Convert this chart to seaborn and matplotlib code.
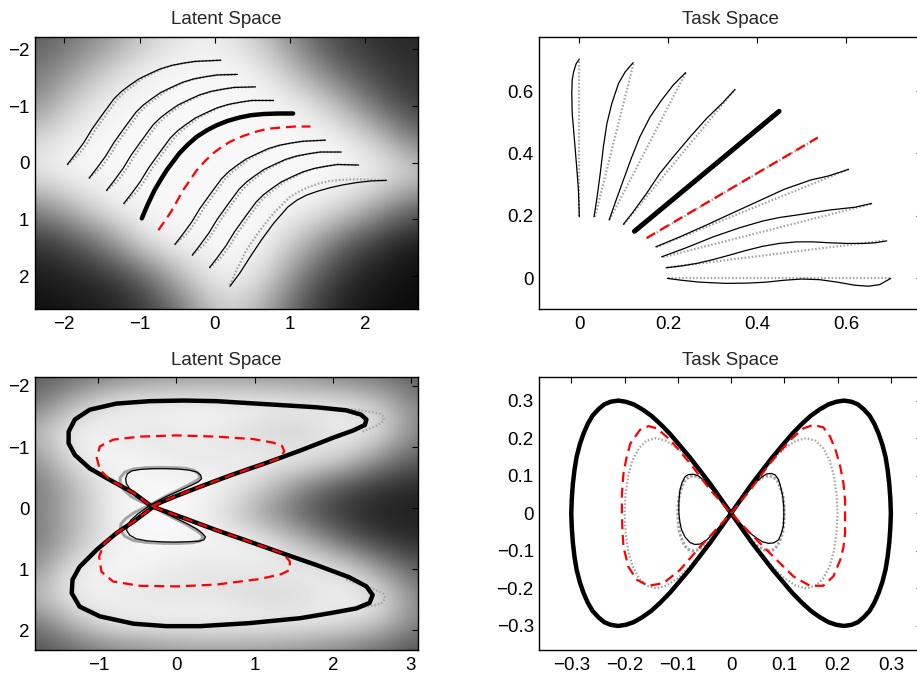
import numpy as np
import matplotlib
matplotlib.use("Agg")
import matplotlib.pyplot as plt
import seaborn as sns

sns.set_theme(style="white")
plt.rcParams['font.family'] = ['Liberation Sans', 'DejaVu Sans']
plt.rcParams['axes.unicode_minus'] = True

# ---------------- Top-left: Latent Space (trajectory family) ----------------
tl_black_x = [
    [-1.96, -1.85, -1.74, -1.63, -1.49, -1.34, -1.24, -1.14, -1.01, -0.87, -0.72, -0.57, -0.41, -0.26, 0.08],
    [-1.67, -1.56, -1.45, -1.34, -1.20, -1.05, -0.95, -0.85, -0.72, -0.58, -0.43, -0.28, -0.12, 0.03, 0.30],
    [-1.44, -1.33, -1.22, -1.11, -0.97, -0.82, -0.72, -0.62, -0.49, -0.35, -0.20, -0.05, 0.11, 0.26, 0.54],
    [-1.21, -1.10, -0.99, -0.88, -0.74, -0.59, -0.49, -0.39, -0.26, -0.12, 0.03, 0.18, 0.34, 0.49, 0.78],
    [-0.53, -0.42, -0.31, -0.20, -0.06, 0.09, 0.19, 0.29, 0.42, 0.56, 0.71, 0.86, 1.02, 1.17, 1.47],
    [-0.30, -0.19, -0.08, 0.03, 0.17, 0.32, 0.42, 0.52, 0.65, 0.79, 0.94, 1.09, 1.25, 1.40, 1.68],
    [-0.07, 0.04, 0.15, 0.26, 0.40, 0.55, 0.65, 0.75, 0.88, 1.02, 1.17, 1.32, 1.48, 1.63, 1.91],
    [0.20, 0.33, 0.47, 0.62, 0.78, 0.97, 1.09, 1.22, 1.37, 1.53, 1.70, 1.88, 2.08, 2.28],
]
tl_black_y = [
    [0.03, -0.16, -0.36, -0.60, -0.86, -1.13, -1.26, -1.36, -1.48, -1.57, -1.66, -1.72, -1.76, -1.79, -1.81],
    [0.27, 0.08, -0.12, -0.36, -0.62, -0.89, -1.02, -1.12, -1.24, -1.33, -1.42, -1.48, -1.52, -1.55, -1.56],
    [0.49, 0.30, 0.10, -0.14, -0.40, -0.67, -0.80, -0.90, -1.02, -1.11, -1.20, -1.26, -1.30, -1.33, -1.34],
    [0.72, 0.53, 0.33, 0.09, -0.17, -0.44, -0.57, -0.67, -0.79, -0.88, -0.97, -1.03, -1.07, -1.10, -1.10],
    [1.44, 1.25, 1.05, 0.81, 0.55, 0.28, 0.15, 0.05, -0.07, -0.16, -0.25, -0.31, -0.35, -0.38, -0.40],
    [1.63, 1.44, 1.24, 1.00, 0.74, 0.47, 0.34, 0.24, 0.12, 0.03, -0.06, -0.12, -0.16, -0.19, -0.19],
    [1.85, 1.66, 1.46, 1.22, 0.96, 0.69, 0.56, 0.46, 0.34, 0.25, 0.16, 0.10, 0.06, 0.03, 0.04],
    [2.18, 1.95, 1.66, 1.36, 1.07, 0.78, 0.66, 0.57, 0.50, 0.44, 0.39, 0.35, 0.32, 0.31],
]
tl_gray_x = [
    [-1.96, -1.80, -1.69, -1.58, -1.44, -1.29, -1.19, -1.09, -0.97, -0.84, -0.70, -0.56, -0.41, -0.26, 0.08],
    [-1.67, -1.51, -1.40, -1.29, -1.15, -1.00, -0.90, -0.80, -0.68, -0.55, -0.41, -0.27, -0.12, 0.03, 0.30],
    [-1.44, -1.28, -1.17, -1.06, -0.92, -0.77, -0.67, -0.57, -0.45, -0.32, -0.18, -0.04, 0.11, 0.26, 0.54],
    [-1.21, -1.05, -0.94, -0.83, -0.69, -0.54, -0.44, -0.34, -0.22, -0.09, 0.05, 0.19, 0.34, 0.49, 0.78],
    [-0.53, -0.37, -0.26, -0.15, -0.01, 0.14, 0.24, 0.34, 0.46, 0.59, 0.73, 0.87, 1.02, 1.17, 1.47],
    [-0.30, -0.14, -0.03, 0.08, 0.22, 0.37, 0.47, 0.57, 0.69, 0.82, 0.96, 1.10, 1.25, 1.40, 1.68],
    [-0.07, 0.09, 0.20, 0.31, 0.45, 0.60, 0.70, 0.80, 0.92, 1.05, 1.19, 1.33, 1.48, 1.63, 1.91],
    [0.20, 0.29, 0.42, 0.60, 0.78, 1.00, 1.13, 1.26, 1.40, 1.53, 1.70, 1.88, 2.08, 2.28],
]
tl_gray_y = [
    [0.03, -0.16, -0.36, -0.60, -0.86, -1.13, -1.26, -1.36, -1.48, -1.57, -1.66, -1.72, -1.76, -1.79, -1.81],
    [0.27, 0.08, -0.12, -0.36, -0.62, -0.89, -1.02, -1.12, -1.24, -1.33, -1.42, -1.48, -1.52, -1.55, -1.56],
    [0.49, 0.30, 0.10, -0.14, -0.40, -0.67, -0.80, -0.90, -1.02, -1.11, -1.20, -1.26, -1.30, -1.33, -1.34],
    [0.72, 0.53, 0.33, 0.09, -0.17, -0.44, -0.57, -0.67, -0.79, -0.88, -0.97, -1.03, -1.07, -1.10, -1.10],
    [1.44, 1.25, 1.05, 0.81, 0.55, 0.28, 0.15, 0.05, -0.07, -0.16, -0.25, -0.31, -0.35, -0.38, -0.40],
    [1.63, 1.44, 1.24, 1.00, 0.74, 0.47, 0.34, 0.24, 0.12, 0.03, -0.06, -0.12, -0.16, -0.19, -0.19],
    [1.85, 1.66, 1.46, 1.22, 0.96, 0.69, 0.56, 0.46, 0.34, 0.25, 0.16, 0.10, 0.06, 0.03, 0.04],
    [2.16, 1.89, 1.54, 1.19, 0.89, 0.60, 0.50, 0.42, 0.36, 0.32, 0.30, 0.29, 0.30, 0.31],
]
tl_thick_x = [-0.97, -0.89, -0.80, -0.72, -0.64, -0.47, -0.36, -0.24, -0.11, 0.02, 0.17, 0.33, 0.48, 0.64, 0.84, 1.04]
tl_thick_y = [0.98, 0.73, 0.48, 0.30, 0.13, -0.17, -0.32, -0.46, -0.57, -0.66, -0.74, -0.80, -0.84, -0.86, -0.87, -0.87]
tl_red_x = [-0.75, -0.58, -0.42, -0.24, -0.13, -0.02, 0.09, 0.20, 0.37, 0.55, 0.70, 0.86, 1.06, 1.27]
tl_red_y = [1.19, 0.86, 0.48, 0.13, -0.03, -0.17, -0.28, -0.37, -0.47, -0.55, -0.60, -0.62, -0.64, -0.64]

tl_bg_x = [-2.4, 2.7]
tl_bg_y = [-2.2, 2.6]
tl_bg = [
    [0.35, 0.45, 0.60, 0.80, 0.92, 0.92, 0.75, 0.45, 0.25, 0.18, 0.15],
    [0.45, 0.62, 0.84, 0.97, 0.97, 0.97, 0.94, 0.68, 0.40, 0.25, 0.18],
    [0.55, 0.84, 0.97, 0.97, 0.97, 0.97, 0.97, 0.96, 0.74, 0.40, 0.22],
    [0.84, 0.96, 0.97, 0.97, 0.97, 0.97, 0.97, 0.97, 0.97, 0.80, 0.45],
    [0.92, 0.97, 0.97, 0.97, 0.97, 0.97, 0.97, 0.97, 0.97, 0.97, 0.84],
    [0.50, 0.74, 0.95, 0.97, 0.97, 0.97, 0.97, 0.97, 0.88, 0.62, 0.35],
    [0.20, 0.30, 0.56, 0.94, 0.97, 0.97, 0.97, 0.74, 0.40, 0.20, 0.10],
    [0.10, 0.15, 0.20, 0.42, 0.82, 0.97, 0.88, 0.46, 0.20, 0.10, 0.05],
    [0.05, 0.08, 0.12, 0.22, 0.50, 0.86, 0.66, 0.30, 0.12, 0.06, 0.04],
]

# ---------------- Top-right: Task Space (fan of lines) ----------------
tr_gray_x0 = [0.000, 0.035, 0.068, 0.100, 0.129, 0.153, 0.173, 0.188, 0.197, 0.200]
tr_gray_y0 = [0.200, 0.197, 0.188, 0.173, 0.153, 0.129, 0.100, 0.068, 0.035, 0.000]
tr_gray_x1 = [0.000, 0.122, 0.239, 0.350, 0.450, 0.536, 0.606, 0.658, 0.689, 0.700]
tr_gray_y1 = [0.700, 0.689, 0.658, 0.606, 0.536, 0.450, 0.350, 0.239, 0.122, 0.000]
tr_black_x = [
    [0.0, -0.002, -0.006, -0.011, -0.016, -0.017, -0.016, -0.013, -0.007, 0.0],
    [0.033, 0.040, 0.047, 0.054, 0.062, 0.073, 0.088, 0.103, 0.121],
    [0.067, 0.080, 0.099, 0.118, 0.136, 0.159, 0.185, 0.211, 0.239],
    [0.099, 0.121, 0.151, 0.181, 0.211, 0.249, 0.286, 0.324, 0.350],
    [0.172, 0.226, 0.286, 0.339, 0.399, 0.460, 0.520, 0.560, 0.605],
    [0.185, 0.240, 0.301, 0.360, 0.413, 0.450, 0.489, 0.526, 0.563, 0.620, 0.657],
    [0.195, 0.230, 0.264, 0.300, 0.339, 0.376, 0.413, 0.450, 0.489, 0.526, 0.563, 0.600, 0.638, 0.665, 0.691],
    [0.198, 0.230, 0.270, 0.330, 0.380, 0.420, 0.460, 0.500, 0.540, 0.580, 0.620, 0.650, 0.675, 0.700],
]
tr_black_y = [
    [0.197, 0.283, 0.357, 0.443, 0.528, 0.592, 0.635, 0.661, 0.688, 0.702],
    [0.197, 0.261, 0.336, 0.421, 0.496, 0.560, 0.624, 0.661, 0.691],
    [0.187, 0.240, 0.315, 0.389, 0.453, 0.517, 0.571, 0.619, 0.659],
    [0.173, 0.213, 0.272, 0.336, 0.389, 0.453, 0.512, 0.565, 0.605],
    [0.101, 0.133, 0.171, 0.206, 0.245, 0.285, 0.315, 0.328, 0.349],
    [0.069, 0.098, 0.133, 0.162, 0.184, 0.195, 0.203, 0.211, 0.219, 0.228, 0.240],
    [0.034, 0.040, 0.048, 0.060, 0.075, 0.090, 0.103, 0.112, 0.117, 0.117, 0.114, 0.112, 0.112, 0.114, 0.120],
    [0.000, -0.006, -0.012, -0.016, -0.015, -0.012, -0.006, -0.002, -0.004, -0.012, -0.022, -0.025, -0.020, 0.000],
]
tr_thick_x = [0.124, 0.449]
tr_thick_y = [0.151, 0.535]
tr_red_x = [0.151, 0.536]
tr_red_y = [0.129, 0.451]

# ---------------- Bottom-left: Latent Space (figure eight) ----------------
bl_thick_x = [-0.32, -0.04, 0.30, 0.72, 1.15, 1.58, 2.00, 2.26, 2.41, 2.43, 2.36, 2.17,
              1.79, 1.15, 0.51, 0.09, -0.34, -0.77, -1.11, -1.30, -1.38, -1.38, -1.30,
              -1.11, -0.85, -0.55, -0.32, 0.09, 0.51, 0.94, 1.36, 1.79, 2.21, 2.43, 2.51,
              2.47, 2.30, 2.00, 1.58, 0.94, 0.30, -0.13, -0.55, -0.98, -1.24, -1.34,
              -1.33, -1.24, -1.02, -0.77, -0.55, -0.32]
bl_thick_y = [-0.03, -0.18, -0.35, -0.55, -0.74, -0.94, -1.15, -1.27, -1.36, -1.45, -1.53,
              -1.60, -1.65, -1.70, -1.75, -1.76, -1.75, -1.71, -1.61, -1.45, -1.25, -1.06,
              -0.87, -0.65, -0.46, -0.25, -0.03, 0.16, 0.36, 0.55, 0.74, 0.93, 1.13, 1.28,
              1.42, 1.55, 1.64, 1.71, 1.80, 1.88, 1.93, 1.93, 1.89, 1.77, 1.61, 1.39,
              1.17, 0.96, 0.68, 0.41, 0.22, 0.00]
bl_red_x = [-0.32, -0.04, 0.30, 0.72, 1.15, 1.32, 1.38, 1.35, 1.24, 0.98, 0.51, 0.00,
            -0.47, -0.81, -0.98, -1.02, -0.98, -0.85, -0.55, -0.32, 0.09, 0.51, 0.94,
            1.36, 1.45, 1.45, 1.34, 1.06, 0.51, 0.00, -0.47, -0.81, -0.96, -0.99, -0.92,
            -0.77, -0.55, -0.32]
bl_red_y = [-0.03, -0.18, -0.35, -0.55, -0.74, -0.82, -0.93, -1.02, -1.07, -1.13, -1.17,
            -1.19, -1.17, -1.12, -1.01, -0.82, -0.63, -0.46, -0.25, -0.03, 0.16, 0.36,
            0.55, 0.74, 0.87, 1.01, 1.08, 1.16, 1.25, 1.28, 1.27, 1.20, 1.04, 0.79, 0.57,
            0.41, 0.22, 0.00]
bl_small_x = [-0.34, -0.13, 0.08, 0.20, 0.28, 0.32, 0.31, 0.26, 0.17, 0.02, -0.13, -0.30,
              -0.45, -0.57, -0.63, -0.65, -0.64, -0.60, -0.53, -0.45, -0.34,
              -0.13, 0.13, 0.26, 0.33, 0.37, 0.35, 0.28, 0.13, -0.04, -0.21, -0.38,
              -0.52, -0.60, -0.64, -0.62, -0.58, -0.49, -0.41, -0.34]
bl_small_y = [-0.05, -0.19, -0.31, -0.38, -0.43, -0.48, -0.54, -0.59, -0.62, -0.64, -0.645, -0.645,
              -0.635, -0.61, -0.56, -0.48, -0.40, -0.32, -0.24, -0.16, -0.05,
              0.09, 0.25, 0.34, 0.41, 0.47, 0.52, 0.54, 0.55, 0.555, 0.55, 0.535,
              0.50, 0.44, 0.36, 0.27, 0.19, 0.09, 0.02, -0.05]
bl_smallg_x = [-0.34, -0.13, 0.08, 0.20, 0.27, 0.30, 0.28, 0.22, 0.12, -0.02, -0.20, -0.40,
               -0.55, -0.66, -0.72, -0.72, -0.68, -0.58, -0.46, -0.34,
               -0.13, 0.13, 0.26, 0.32, 0.34, 0.30, 0.20, 0.03, -0.17, -0.38,
               -0.55, -0.66, -0.72, -0.71, -0.65, -0.55, -0.44, -0.34]
bl_smallg_y = [-0.05, -0.20, -0.33, -0.41, -0.46, -0.51, -0.57, -0.62, -0.65, -0.66, -0.665, -0.66,
               -0.64, -0.59, -0.50, -0.40, -0.31, -0.19, -0.11, -0.05,
               0.10, 0.27, 0.37, 0.43, 0.48, 0.54, 0.565, 0.575, 0.575, 0.56,
               0.53, 0.46, 0.36, 0.26, 0.17, 0.08, 0.01, -0.05]
bl_tip1_x = [1.87, 2.09, 2.30, 2.41, 2.51, 2.61, 2.65, 2.65, 2.58, 2.47, 2.36]
bl_tip1_y = [-1.65, -1.63, -1.61, -1.59, -1.57, -1.54, -1.50, -1.43, -1.36, -1.30, -1.24]
bl_tip2_x = [2.17, 2.38, 2.53, 2.64, 2.67, 2.62, 2.49, 2.34]
bl_tip2_y = [1.17, 1.26, 1.33, 1.39, 1.47, 1.56, 1.60, 1.63]

bl_bg_x = [-1.8, 3.1]
bl_bg_y = [-2.14, 2.32]
bl_bg = [
    [0.35, 0.42, 0.50, 0.58, 0.60, 0.60, 0.58, 0.55, 0.50, 0.45, 0.35],
    [0.45, 0.75, 0.95, 0.97, 0.97, 0.97, 0.97, 0.95, 0.92, 0.80, 0.50],
    [0.72, 0.97, 0.92, 0.88, 0.93, 0.90, 0.82, 0.80, 0.95, 0.90, 0.50],
    [0.55, 0.93, 0.97, 0.95, 0.90, 0.92, 0.95, 0.95, 0.85, 0.55, 0.35],
    [0.45, 0.72, 0.95, 0.97, 0.97, 0.95, 0.80, 0.52, 0.32, 0.20, 0.15],
    [0.48, 0.72, 0.95, 0.98, 0.97, 0.85, 0.60, 0.36, 0.20, 0.13, 0.13],
    [0.45, 0.72, 0.95, 0.97, 0.97, 0.97, 0.93, 0.72, 0.42, 0.22, 0.15],
    [0.55, 0.93, 0.97, 0.95, 0.90, 0.90, 0.93, 0.95, 0.90, 0.60, 0.35],
    [0.72, 0.97, 0.92, 0.88, 0.90, 0.88, 0.82, 0.85, 0.95, 0.92, 0.50],
    [0.45, 0.75, 0.95, 0.97, 0.97, 0.97, 0.97, 0.95, 0.90, 0.80, 0.50],
    [0.30, 0.40, 0.50, 0.55, 0.60, 0.60, 0.58, 0.55, 0.50, 0.40, 0.30],
]

# ---------------- Bottom-right: Task Space (figure eight) ----------------
br_thick_x = [0.000, 0.039, 0.078, 0.115, 0.133, 0.150, 0.167, 0.183, 0.198, 0.212, 0.226, 0.238, 0.249,
              0.260, 0.269, 0.277, 0.284, 0.290, 0.294, 0.297, 0.299, 0.300, 0.299, 0.297, 0.294, 0.290,
              0.284, 0.277, 0.269, 0.260, 0.249, 0.238, 0.226, 0.212, 0.198, 0.183, 0.167, 0.150, 0.133,
              0.115, 0.078, 0.039, 0.000,
              -0.039, -0.078, -0.115, -0.133, -0.150, -0.167, -0.183, -0.198, -0.212, -0.226, -0.238, -0.249,
              -0.260, -0.269, -0.277, -0.284, -0.290, -0.294, -0.297, -0.299, -0.300, -0.299, -0.297, -0.294,
              -0.290, -0.284, -0.277, -0.269, -0.260, -0.249, -0.238, -0.226, -0.212, -0.198, -0.183, -0.167,
              -0.150, -0.133, -0.115, -0.078, -0.039, 0.000]
br_thick_y = [0.000, 0.078, 0.150, 0.212, 0.238, 0.260, 0.277, 0.290, 0.297, 0.300, 0.297, 0.290, 0.277,
              0.260, 0.238, 0.212, 0.183, 0.150, 0.115, 0.078, 0.039, 0.000, -0.039, -0.078, -0.115, -0.150,
              -0.183, -0.212, -0.238, -0.260, -0.277, -0.290, -0.297, -0.300, -0.297, -0.290, -0.277, -0.260,
              -0.238, -0.212, -0.150, -0.078, 0.000,
              0.078, 0.150, 0.212, 0.238, 0.260, 0.277, 0.290, 0.297, 0.300, 0.297, 0.290, 0.277,
              0.260, 0.238, 0.212, 0.183, 0.150, 0.115, 0.078, 0.039, 0.000, -0.039, -0.078, -0.115,
              -0.150, -0.183, -0.212, -0.238, -0.260, -0.277, -0.290, -0.297, -0.300, -0.297, -0.290, -0.277,
              -0.260, -0.238, -0.212, -0.150, -0.078, 0.000]
br_gray_x = [0.000, 0.026, 0.052, 0.077, 0.100, 0.122, 0.141, 0.159, 0.173, 0.185, 0.193, 0.198, 0.200,
             0.198, 0.193, 0.185, 0.173, 0.159, 0.141, 0.122, 0.100, 0.077, 0.052, 0.026, 0.000,
             -0.026, -0.052, -0.077, -0.100, -0.122, -0.141, -0.159, -0.173, -0.185, -0.193, -0.198, -0.200,
             -0.198, -0.193, -0.185, -0.173, -0.159, -0.141, -0.122, -0.100, -0.077, -0.052, -0.026, 0.000]
br_gray_y = [0.000, 0.052, 0.100, 0.141, 0.173, 0.193, 0.200, 0.193, 0.173, 0.141, 0.100, 0.052, 0.000,
             -0.052, -0.100, -0.141, -0.173, -0.193, -0.200, -0.193, -0.173, -0.141, -0.100, -0.052, 0.000,
             0.052, 0.100, 0.141, 0.173, 0.193, 0.200, 0.193, 0.173, 0.141, 0.100, 0.052, 0.000,
             -0.052, -0.100, -0.141, -0.173, -0.193, -0.200, -0.193, -0.173, -0.141, -0.100, -0.052, 0.000]
br_red_x = [0.000, 0.036, 0.073, 0.111, 0.136, 0.154, 0.173, 0.186, 0.197, 0.205, 0.211, 0.214, 0.214,
            0.211, 0.205, 0.192, 0.173, 0.148, 0.117, 0.079, 0.042, 0.000, -0.039, -0.077, -0.114,
            -0.139, -0.155, -0.171, -0.189, -0.196, -0.202, -0.205, -0.205, -0.204, -0.202, -0.193,
            -0.177, -0.155, -0.127, -0.096, -0.058, 0.000]
br_red_y = [0.000, 0.062, 0.133, 0.195, 0.226, 0.235, 0.229, 0.204, 0.165, 0.124, 0.080, 0.035, -0.053,
            -0.090, -0.124, -0.168, -0.193, -0.193, -0.168, -0.115, -0.062, 0.000, 0.062, 0.133, 0.195,
            0.226, 0.232, 0.222, 0.186, 0.150, 0.106, 0.050, 0.000, -0.045, -0.089, -0.142,
            -0.177, -0.193, -0.186, -0.151, -0.089, 0.000]
br_smallg_x = [0.000, 0.013, 0.026, 0.038, 0.050, 0.061, 0.071, 0.079, 0.087, 0.092, 0.097, 0.099, 0.100,
               0.099, 0.097, 0.092, 0.087, 0.079, 0.071, 0.061, 0.050, 0.038, 0.026, 0.013, 0.000,
               -0.013, -0.026, -0.038, -0.050, -0.061, -0.071, -0.079, -0.087, -0.092, -0.097, -0.099, -0.100,
               -0.099, -0.097, -0.092, -0.087, -0.079, -0.071, -0.061, -0.050, -0.038, -0.026, -0.013, 0.000]
br_smallg_y = [0.000, 0.026, 0.050, 0.071, 0.087, 0.097, 0.100, 0.097, 0.087, 0.071, 0.050, 0.026, 0.000,
               -0.026, -0.050, -0.071, -0.087, -0.097, -0.100, -0.097, -0.087, -0.071, -0.050, -0.026, 0.000,
               0.026, 0.050, 0.071, 0.087, 0.097, 0.100, 0.097, 0.087, 0.071, 0.050, 0.026, 0.000,
               -0.026, -0.050, -0.071, -0.087, -0.097, -0.100, -0.097, -0.087, -0.071, -0.050, -0.026, 0.000]
br_small_x = [0.000, 0.012, 0.023, 0.036, 0.048, 0.058, 0.067, 0.076, 0.083, 0.089, 0.093, 0.097, 0.099,
              0.099, 0.098, 0.094, 0.089, 0.080, 0.070, 0.059, 0.048, 0.035, 0.023, 0.011, 0.000,
              -0.012, -0.024, -0.038, -0.052, -0.062, -0.071, -0.080, -0.086, -0.092, -0.096, -0.098, -0.098,
              -0.096, -0.093, -0.086, -0.077, -0.068, -0.058, -0.045, -0.033, -0.016, 0.000]
br_small_y = [0.000, 0.022, 0.044, 0.066, 0.084, 0.097, 0.105, 0.106, 0.102, 0.090, 0.071, 0.045, 0.018,
              -0.010, -0.035, -0.055, -0.071, -0.079, -0.080, -0.076, -0.066, -0.052, -0.035, -0.017, 0.000,
              0.022, 0.044, 0.067, 0.089, 0.100, 0.104, 0.103, 0.098, 0.082, 0.062, 0.030, 0.000,
              -0.024, -0.044, -0.064, -0.078, -0.083, -0.082, -0.070, -0.053, -0.027, 0.000]

# ---------------- axes setup ----------------
tl_xticks = [-2, -1, 0, 1, 2]
tl_yticks = [-2, -1, 0, 1, 2]
tr_ticks = [0, 0.2, 0.4, 0.6]
tr_ticklabels = ['0', '0.2', '0.4', '0.6']
bl_xticks = [-1, 0, 1, 2, 3]
bl_yticks = [-2, -1, 0, 1, 2]
br_ticks = [-0.3, -0.2, -0.1, 0, 0.1, 0.2, 0.3]
br_ticklabels = ['\u22120.3', '\u22120.2', '\u22120.1', '0', '0.1', '0.2', '0.3']

W, H = 917, 680
fig = plt.figure(figsize=(W / 100, H / 100), dpi=100)
ax_tl = fig.add_axes([35 / W, 1 - 309 / H, 383 / W, 272 / H])
ax_tr = fig.add_axes([539.3 / W, 1 - 309 / H, 383 / W, 272 / H])
ax_bl = fig.add_axes([35 / W, 1 - 650 / H, 383 / W, 272.7 / H])
ax_br = fig.add_axes([539.3 / W, 1 - 650 / H, 383 / W, 272.7 / H])

GRAY = '#a3a3a3'
FS = 13.5


def line(ax, x, y, **kw):
    sns.lineplot(x=x, y=y, ax=ax, sort=False, estimator=None, **kw)


def gray(ax, x, y, lw=1.6):
    line(ax, x, y, color=GRAY, lw=lw, linestyle=(0, (0.7, 0.9)))


def black(ax, x, y, lw=0.9):
    line(ax, x, y, color='black', lw=lw, solid_capstyle='round', solid_joinstyle='round')


def red(ax, x, y):
    line(ax, x, y, color='#ff0000', lw=1.6, linestyle=(0, (4.5, 2.6)))


def background(ax, grid, gx, gy):
    g = np.array(grid)
    ny, nx = g.shape
    dx = (gx[1] - gx[0]) / (nx - 1)
    dy = (gy[1] - gy[0]) / (ny - 1)
    ax.imshow(g, cmap='gray', vmin=0, vmax=1, origin='lower', aspect='auto',
              interpolation='bicubic',
              extent=(gx[0] - dx / 2, gx[1] + dx / 2, gy[0] - dy / 2, gy[1] + dy / 2),
              zorder=0)


def style(ax, title, xlim, ylim, xt, yt, xtl=None, ytl=None):
    ax.set_xlim(*xlim)
    ax.set_ylim(*ylim)
    ax.set_xticks(xt)
    ax.set_yticks(yt)
    if xtl is not None:
        ax.set_xticklabels(xtl)
    if ytl is not None:
        ax.set_yticklabels(ytl)
    ax.tick_params(direction='in', length=4, width=0.8, top=True, right=True,
                   labelsize=FS, colors='black')
    ax.tick_params(axis='x', pad=5)
    ax.tick_params(axis='y', pad=4)
    ax.set_title(title, fontsize=FS, pad=9)
    ax.set_xlabel('')
    ax.set_ylabel('')
    for s in ax.spines.values():
        s.set_color('black')
        s.set_linewidth(1.0)
        s.set_visible(True)
    ax.grid(False)


# top-left
background(ax_tl, tl_bg, tl_bg_x, tl_bg_y)
for xs, ys in zip(tl_gray_x, tl_gray_y):
    gray(ax_tl, xs, ys)
for xs, ys in zip(tl_black_x, tl_black_y):
    black(ax_tl, xs, ys)
black(ax_tl, tl_thick_x, tl_thick_y, lw=3.2)
red(ax_tl, tl_red_x, tl_red_y)
style(ax_tl, 'Latent Space', (-2.39, 2.70), (2.58, -2.22), tl_xticks, tl_yticks)

# top-right
for x0, y0, x1, y1 in zip(tr_gray_x0, tr_gray_y0, tr_gray_x1, tr_gray_y1):
    gray(ax_tr, [x0, x1], [y0, y1])
for xs, ys in zip(tr_black_x, tr_black_y):
    black(ax_tr, xs, ys)
black(ax_tr, tr_thick_x, tr_thick_y, lw=3.6)
red(ax_tr, tr_red_x, tr_red_y)
style(ax_tr, 'Task Space', (-0.09, 0.771), (-0.098, 0.773), tr_ticks, tr_ticks,
      tr_ticklabels, tr_ticklabels)

# bottom-left
background(ax_bl, bl_bg, bl_bg_x, bl_bg_y)
gray(ax_bl, bl_tip1_x, bl_tip1_y, lw=1.6)
gray(ax_bl, bl_tip2_x, bl_tip2_y, lw=1.6)
line(ax_bl, bl_smallg_x, bl_smallg_y, color=GRAY, lw=2.2)
black(ax_bl, bl_small_x, bl_small_y, lw=0.9)
black(ax_bl, bl_thick_x, bl_thick_y, lw=3.2)
red(ax_bl, bl_red_x, bl_red_y)
style(ax_bl, 'Latent Space', (-1.81, 3.09), (2.32, -2.14), bl_xticks, bl_yticks)

# bottom-right
gray(ax_br, br_gray_x, br_gray_y)
line(ax_br, br_smallg_x, br_smallg_y, color=GRAY, lw=2.2, linestyle=(0, (0.8, 0.6)))
black(ax_br, br_small_x, br_small_y, lw=0.9)
black(ax_br, br_thick_x, br_thick_y, lw=3.2)
red(ax_br, br_red_x, br_red_y)
style(ax_br, 'Task Space', (-0.36, 0.359), (-0.364, 0.362), br_ticks, br_ticks,
      br_ticklabels, br_ticklabels)

fig.savefig('out.png', dpi=100)
